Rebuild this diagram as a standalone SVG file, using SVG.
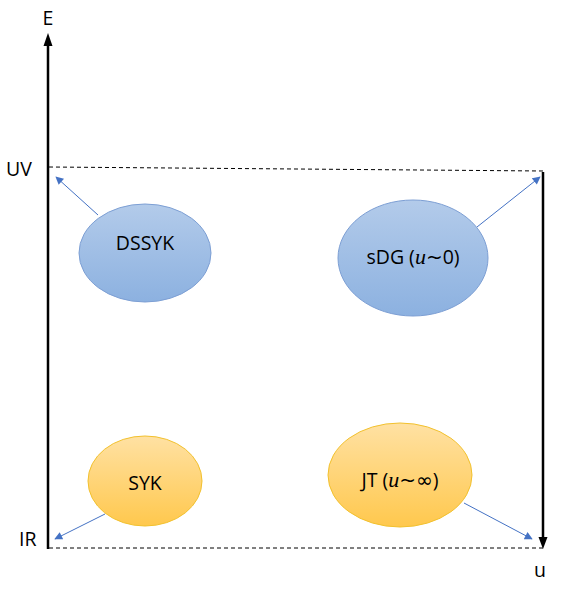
<svg xmlns="http://www.w3.org/2000/svg" width="576" height="589" viewBox="0 0 576 589">
<defs>
<linearGradient id="gb" x1="0" y1="0" x2="0" y2="1"><stop offset="0" stop-color="#b3cbea"/><stop offset="1" stop-color="#8cb1e0"/></linearGradient>
<linearGradient id="go" x1="0" y1="0" x2="0" y2="1"><stop offset="0" stop-color="#ffe1a3"/><stop offset="1" stop-color="#ffc84d"/></linearGradient>
<marker id="ab" viewBox="0 0 10 10" refX="9" refY="5" markerWidth="10" markerHeight="8" orient="auto" markerUnits="userSpaceOnUse"><path d="M0,0 L10,5 L0,10 z" fill="#4472c4"/></marker>
<style>
.t{font-family:"Open Sans","Liberation Sans",sans-serif;font-size:19.5px;fill:#000}
.m{font-family:"Liberation Serif",serif;font-style:italic;font-size:22px}
.s{font-family:"DejaVu Sans",sans-serif;font-size:20px}
.blue{fill:url(#gb);stroke:#7d9fd4;stroke-width:1}
.or{fill:url(#go);stroke:#f2c12e;stroke-width:1}
.ax{stroke:#000;stroke-width:2.5;fill:none}
.ds{stroke:#000;stroke-width:1;stroke-dasharray:4,3;fill:none}
.ar{stroke:#4472c4;stroke-width:1;fill:none;marker-end:url(#ab)}
</style>
</defs>
<rect width="576" height="589" fill="#fff"/>
<g id="axes">
<line class="ax" x1="48" y1="549" x2="48" y2="44"/>
<path d="M48,33 L43.5,46 L52.5,46 z" fill="#000"/>
<line class="ax" x1="543" y1="172" x2="543" y2="540"/>
<path d="M543,549 L538.5,537 L547.5,537 z" fill="#000"/>
<line class="ds" x1="49" y1="167" x2="543" y2="171"/>
<line class="ds" x1="49" y1="548" x2="543" y2="548"/>
<text class="t" x="48" y="25" text-anchor="middle">E</text>
<text class="t" x="6" y="176">UV</text>
<text class="t" x="19" y="546">IR</text>
<text class="t" x="540" y="577" text-anchor="middle">u</text>
</g>
<g id="connectors">
<line class="ar" x1="98" y1="215" x2="56" y2="177"/>
<line class="ar" x1="477" y1="227" x2="540" y2="177"/>
<line class="ar" x1="105" y1="514" x2="55" y2="539"/>
<line class="ar" x1="464" y1="503" x2="532" y2="539"/>
</g>
<g id="dssyk">
<ellipse class="blue" cx="145" cy="253" rx="66" ry="49"/>
<text class="t" x="145" y="250" text-anchor="middle">DSSYK</text>
</g>
<g id="sdg">
<ellipse class="blue" cx="413" cy="258" rx="75" ry="58"/>
<text class="t" x="413" y="264" text-anchor="middle">sDG (<tspan class="m">u</tspan><tspan class="s">~</tspan>0)</text>
</g>
<g id="syk">
<ellipse class="or" cx="145" cy="481" rx="57" ry="45"/>
<text class="t" x="145" y="490" text-anchor="middle">SYK</text>
</g>
<g id="jt">
<ellipse class="or" cx="400" cy="475" rx="72" ry="52"/>
<text class="t" x="400" y="487" text-anchor="middle">JT (<tspan class="m">u</tspan><tspan class="s">~∞</tspan>)</text>
</g>
</svg>
